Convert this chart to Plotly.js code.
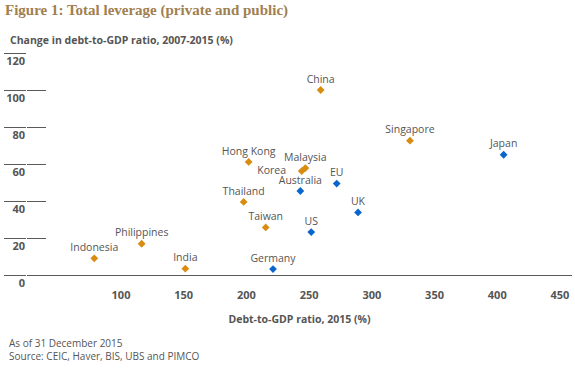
<!DOCTYPE html>
<html>
<head>
<meta charset="utf-8">
<script src="https://cdn.plot.ly/plotly-3.0.1.min.js"></script>
<style>html,body{margin:0;padding:0;background:#fff;}#chart{width:575px;height:368px;}</style>
</head>
<body>
<div id="chart"></div>
<script>
// Emerging / Asia economies (orange)
const countriesEM = ['Indonesia','Philippines','India','China','Hong Kong','Malaysia','Korea','Thailand','Taiwan','Singapore'];
const debtEM = [78.7, 116.5, 151.3, 259.2, 201.8, 247.0, 244.1, 197.8, 215.4, 330.4];
const changeEM = [9.0, 16.9, 3.4, 100.0, 61.1, 57.8, 56.2, 39.5, 25.7, 72.6];
// Developed economies (blue)
const countriesDM = ['Australia','EU','UK','US','Germany','Japan'];
const debtDM = [243.0, 272.0, 289.0, 251.7, 221.2, 405.1];
const changeDM = [45.4, 49.4, 33.8, 23.2, 3.2, 65.0];

const xTickVals = [100, 150, 200, 250, 300, 350, 400, 450];
const yTickVals = [0, 20, 40, 60, 80, 100, 120];

const titleText = 'Figure 1: Total leverage (private and public)';
const yTitleText = 'Change in debt-to-GDP ratio, 2007-2015 (%)';
const xTitleText = 'Debt-to-GDP ratio, 2015 (%)';
const noteText = 'As of 31 December 2015<br>Source: CEIC, Haver, BIS, UBS and PIMCO';

const ORANGE = '#D98C10';
const BLUE = '#0B66CC';
const GREY = '#555555';
const LINE = '#5a5a5a';
const SANS = '"Open Sans", "Noto Sans", sans-serif';

const posEM = countriesEM.map(c => c === 'Korea' ? 'middle left' : 'top center');
// Korea's label sits a little further left of its marker in the reference
const labelsEM = countriesEM.map(c => c === 'Korea' ? c + '\u00a0\u00a0\u00a0\u00a0' : c);

const traces = [
  {
    type: 'scatter', mode: 'markers+text', name: 'Emerging Asia',
    x: debtEM, y: changeEM, text: labelsEM, textposition: posEM,
    marker: {symbol: 'diamond', size: 6, color: ORANGE},
    textfont: {family: SANS, size: 10.5, color: GREY},
    cliponaxis: false, hoverinfo: 'skip', showlegend: false
  },
  {
    type: 'scatter', mode: 'markers+text', name: 'Developed',
    x: debtDM, y: changeDM, text: countriesDM, textposition: 'top center',
    yaxis: 'y2',
    marker: {symbol: 'diamond', size: 6, color: BLUE},
    textfont: {family: SANS, size: 10.5, color: GREY},
    cliponaxis: false, hoverinfo: 'skip', showlegend: false
  }
];

const layout = {
  width: 575, height: 368,
  margin: {l: 27, r: 3, t: 53, b: 93, pad: 0},
  paper_bgcolor: '#ffffff', plot_bgcolor: '#ffffff',
  font: {family: SANS, color: GREY},
  showlegend: false,
  title: {
    text: titleText,
    font: {family: '"Liberation Serif", "DejaVu Serif", serif', size: 15, color: '#A0804F', weight: 'bold'},
    x: 5/575, xanchor: 'left', xref: 'container',
    y: 1 - 10/368, yanchor: 'middle', yref: 'container'
  },
  xaxis: {
    range: [25.06, 459.6], tickvals: xTickVals, ticktext: xTickVals.map(String),
    ticks: 'outside', ticklen: 10, tickcolor: 'rgba(0,0,0,0)',
    showline: true, linecolor: LINE, linewidth: 1,
    showgrid: false, zeroline: false, automargin: false,
    tickfont: {family: SANS, size: 11, color: GREY, weight: 'bold'},
    title: {text: xTitleText, font: {family: SANS, size: 10.5, color: GREY, weight: 'bold'}, standoff: 14}
  },
  yaxis: {
    range: [0, 120], tickvals: yTickVals, ticktext: yTickVals.map(String),
    ticks: 'inside', ticklen: 19, tickcolor: LINE, tickwidth: 1,
    showline: false, showgrid: false, zeroline: false, automargin: false,
    ticklabelshift: 8, ticklabelstandoff: 1,
    tickfont: {family: SANS, size: 11, color: GREY, weight: 'bold'}
  },
  yaxis2: {
    range: [0, 120], tickvals: yTickVals, overlaying: 'y', side: 'left', anchor: 'x',
    ticks: 'outside', ticklen: 22, tickcolor: LINE, tickwidth: 1,
    showticklabels: false, showline: false, showgrid: false, zeroline: false, automargin: false
  },
  annotations: [
    {
      text: yTitleText, xref: 'paper', yref: 'paper',
      x: (8 - 27) / 545, y: (275 - 40) / 222, xanchor: 'left', yanchor: 'middle',
      showarrow: false, font: {family: SANS, size: 10.5, color: GREY, weight: 'bold'}
    },
    {
      text: noteText, xref: 'paper', yref: 'paper', align: 'left',
      x: (7 - 27) / 545, y: (275 - 349.5) / 222, xanchor: 'left', yanchor: 'middle',
      showarrow: false, font: {family: SANS, size: 10, color: GREY}
    }
  ]
};

Plotly.newPlot('chart', traces, layout, {staticPlot: true, displayModeBar: false});
</script>
</body>
</html>
